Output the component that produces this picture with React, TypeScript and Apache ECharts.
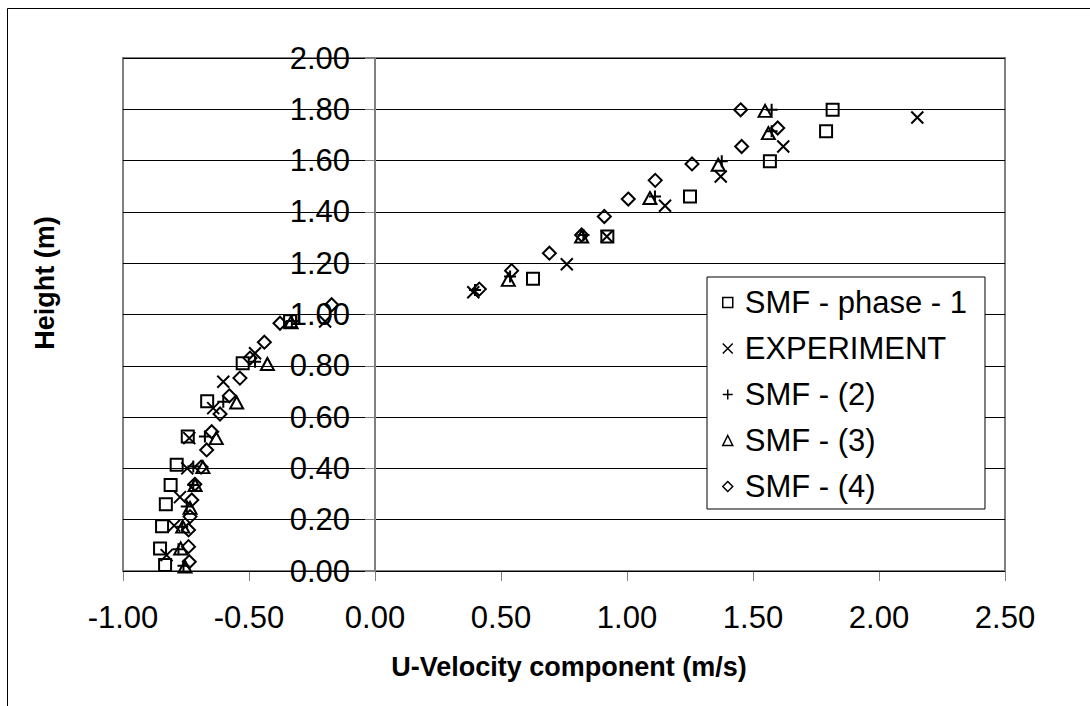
import React, { useEffect, useRef } from "react";
import * as echarts from "echarts";

const FONT = "'Liberation Sans', Arial, Helvetica, sans-serif";

const X_MIN = -1;
const X_MAX = 2.5;
const X_STEP = 0.5;
const Y_MIN = 0;
const Y_MAX = 2;
const Y_STEP = 0.2;

const seriesNames = ["SMF - phase - 1", "EXPERIMENT", "SMF - (2)", "SMF - (3)", "SMF - (4)"];

// [U-velocity (m/s), height (m)]
const smfPhase1: number[][] = [
  [-0.833, 0.023], [-0.853, 0.088], [-0.845, 0.174], [-0.83, 0.26], [-0.811, 0.335],
  [-0.787, 0.414], [-0.743, 0.524], [-0.666, 0.662], [-0.525, 0.81], [-0.337, 0.974],
  [0.627, 1.139], [0.922, 1.304], [1.25, 1.46], [1.567, 1.597], [1.79, 1.714], [1.816, 1.798],
];

const experiment: number[][] = [
  [-0.827, 0.062], [-0.797, 0.177], [-0.774, 0.288], [-0.745, 0.4], [-0.737, 0.518],
  [-0.642, 0.635], [-0.602, 0.738], [-0.476, 0.849], [-0.198, 0.973],
  [0.39, 1.087], [0.761, 1.196], [0.92, 1.304], [1.151, 1.424], [1.372, 1.538],
  [1.62, 1.655], [2.152, 1.768],
];

const smf2: number[][] = [
  [-0.76, 0.02], [-0.78, 0.085], [-0.765, 0.173], [-0.747, 0.251], [-0.721, 0.335],
  [-0.721, 0.407], [-0.675, 0.524], [-0.602, 0.66], [-0.476, 0.816], [-0.33, 0.975],
  [0.397, 1.096], [0.536, 1.148], [0.827, 1.31], [1.111, 1.46], [1.376, 1.597],
  [1.574, 1.714], [1.574, 1.798],
];

const smf3: number[][] = [
  [-0.754, 0.017], [-0.771, 0.088], [-0.763, 0.173], [-0.734, 0.246], [-0.714, 0.335],
  [-0.683, 0.405], [-0.63, 0.518], [-0.549, 0.657], [-0.427, 0.807], [-0.333, 0.97],
  [0.529, 1.135], [0.82, 1.304], [1.091, 1.454], [1.362, 1.584], [1.561, 1.707], [1.548, 1.794],
];

const smf4: number[][] = [
  [-0.737, 0.036], [-0.74, 0.095], [-0.74, 0.16], [-0.734, 0.212], [-0.727, 0.277],
  [-0.715, 0.338], [-0.69, 0.405], [-0.668, 0.472], [-0.648, 0.543], [-0.615, 0.612],
  [-0.578, 0.683], [-0.536, 0.752], [-0.496, 0.83], [-0.439, 0.892], [-0.377, 0.966],
  [-0.172, 1.038],
  [0.414, 1.099], [0.542, 1.171], [0.692, 1.239], [0.82, 1.31], [0.91, 1.382],
  [1.005, 1.45], [1.112, 1.523], [1.258, 1.587], [1.455, 1.655], [1.598, 1.727], [1.451, 1.798],
];

const seriesData = [smfPhase1, experiment, smf2, smf3, smf4];
const symbols = [
  "rect",
  "path://M0,0L10,10M10,0L0,10",
  "path://M5,0L5,10M0,5L10,5",
  "triangle",
  "diamond",
];
const symbolSizes: (number | number[])[] = [12, 12, 12, [13, 12], [13, 13]];

const GRID_LEFT = 123;
const GRID_RIGHT_EDGE = 1005;

export default function App() {
  const ref = useRef<HTMLDivElement>(null);

  useEffect(() => {
    if (!ref.current) return;
    const chart = echarts.init(ref.current, undefined, { renderer: "svg" });
    const gray = "#808080";
    const pxPerUnit = (GRID_RIGHT_EDGE - GRID_LEFT) / (X_MAX - X_MIN);
    const yAxisOffset = -(0 - X_MIN) * pxPerUnit; // put the value axis at U = 0

    const option: any = {
      animation: false,
      backgroundColor: "#fff",
      textStyle: { fontFamily: FONT, color: "#000" },
      grid: {
        left: GRID_LEFT,
        top: 58,
        right: 1090 - GRID_RIGHT_EDGE,
        bottom: 135,
        show: true,
        borderColor: gray,
        borderWidth: 2,
        backgroundColor: "transparent",
      },
      xAxis: {
        type: "value",
        min: X_MIN,
        max: X_MAX,
        interval: X_STEP,
        name: "U-Velocity component (m/s)",
        nameLocation: "middle",
        nameGap: 82,
        nameTextStyle: {
          fontSize: 27,
          fontWeight: "bold",
          color: "#000",
          fontFamily: FONT,
          padding: [0, 0, 0, 10],
        },
        axisLine: { onZero: false, lineStyle: { color: gray, width: 2 } },
        axisTick: { show: true, inside: false, length: 10, lineStyle: { color: gray, width: 1 } },
        axisLabel: {
          fontSize: 31,
          color: "#000",
          fontFamily: FONT,
          margin: 31,
          formatter: (v: number) => v.toFixed(2),
        },
        splitLine: { show: false },
      },
      yAxis: {
        type: "value",
        min: Y_MIN,
        max: Y_MAX,
        interval: Y_STEP,
        position: "left",
        offset: yAxisOffset,
        axisLine: { show: true, onZero: false, lineStyle: { color: gray, width: 2 } },
        axisTick: { show: true, inside: false, length: 10, lineStyle: { color: gray, width: 1 } },
        axisLabel: {
          fontSize: 31,
          color: "#000",
          fontFamily: FONT,
          margin: 25,
          formatter: (v: number) => v.toFixed(2),
        },
        splitLine: { show: true, lineStyle: { color: "#000", width: 1 } },
        z: 2,
      },
      legend: {
        orient: "vertical",
        left: 707,
        top: 277,
        padding: [10, 18, 7, 15],
        itemGap: 15,
        itemWidth: 10,
        itemHeight: 10,
        borderColor: "#000",
        borderWidth: 1,
        backgroundColor: "#fff",
        itemStyle: { borderWidth: 1.5, opacity: 1 },
        textStyle: { fontSize: 31, color: "#000", fontFamily: FONT, padding: [0, 0, 0, 7] },
        data: seriesNames,
      },
      graphic: [
        {
          type: "line",
          shape: { x1: 7.5, y1: 8.5, x2: 1090, y2: 8.5 },
          style: { stroke: "#000", lineWidth: 1 },
          silent: true,
        },
        {
          type: "line",
          shape: { x1: 7.5, y1: 8.5, x2: 7.5, y2: 706 },
          style: { stroke: "#000", lineWidth: 1 },
          silent: true,
        },
        {
          type: "text",
          x: 45,
          y: 283,
          rotation: Math.PI / 2,
          style: {
            text: "Height (m)",
            fontSize: 27,
            fontWeight: "bold",
            fontFamily: FONT,
            fill: "#000",
            align: "center",
            verticalAlign: "middle",
          },
          silent: true,
        },
      ],
      series: seriesNames.map((name, i) => ({
        name,
        type: "scatter",
        data: seriesData[i],
        symbol: symbols[i],
        symbolSize: symbolSizes[i],
        itemStyle: {
          color: "rgba(0,0,0,0)",
          borderColor: "#000",
          borderWidth: 2,
          opacity: 1,
        },
        emphasis: { disabled: true },
        z: 3,
      })),
    };

    chart.setOption(option);
    return () => chart.dispose();
  }, []);

  return (
    <div
      ref={ref}
      style={{ position: "absolute", left: 0, top: 0, width: 1090, height: 706 }}
    />
  );
}
